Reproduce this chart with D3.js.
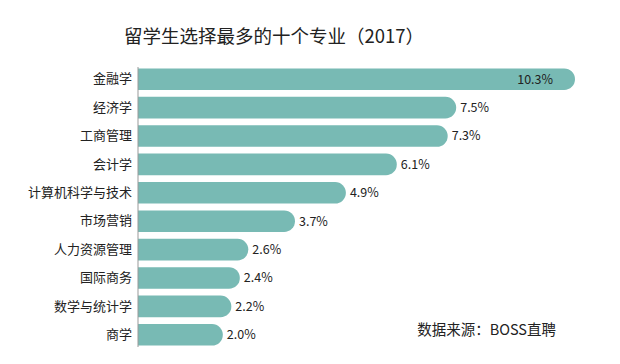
<!DOCTYPE html>
<html>
<head>
<meta charset="utf-8">
<script src="https://cdn.jsdelivr.net/npm/d3@7"></script>
<style>
  body { margin: 0; background: #fff; }
  text { font-family: "Noto Sans CJK SC", "Noto Sans", sans-serif; fill: #222; }
</style>
</head>
<body>
<div id="chart"></div>
<script>
// data, top to bottom
const majors = ['金融学', '经济学', '工商管理', '会计学', '计算机科学与技术',
  '市场营销', '人力资源管理', '国际商务', '数学与统计学', '商学'];
const shares = [10.3, 7.5, 7.3, 6.1, 4.9, 3.7, 2.6, 2.4, 2.2, 2.0];

const titleText = '留学生选择最多的十个专业（2017）';
const sourceText = '数据来源：BOSS直聘';

const dimensions = {
  width: 620,
  height: 364,
  margin: { top: 67, bottom: 17, left: 138, right: 45 }
};
dimensions.ctrWidth = dimensions.width - dimensions.margin.left - dimensions.margin.right;
dimensions.ctrHeight = dimensions.height - dimensions.margin.top - dimensions.margin.bottom;

const svg = d3.select('#chart')
  .append('svg')
  .attr('width', dimensions.width)
  .attr('height', dimensions.height);

svg.append('text')
  .attr('x', 274)
  .attr('y', 43)
  .attr('text-anchor', 'middle')
  .style('font-size', '18.5px')
  .style('font-weight', 400)
  .text(titleText);

const ctr = svg.append('g')
  .attr('transform', `translate(${dimensions.margin.left}, ${dimensions.margin.top})`);

const xScale = d3.scaleLinear()
  .domain([0, d3.max(shares)])
  .range([0, dimensions.ctrWidth]);

const yScale = d3.scaleBand()
  .domain(majors)
  .range([0, dimensions.ctrHeight])
  .paddingInner(0.24)
  .paddingOuter(0.05);

const rows = majors.map((m, i) => ({ major: m, value: shares[i] }));

// bar with flat left end and round right end
const barPath = d => {
  const w = xScale(d.value);
  const h = yScale.bandwidth();
  const y = yScale(d.major);
  const r = h / 2;
  return `M0,${y}H${w - r}A${r},${r} 0 0 1 ${w - r},${y + h}H0Z`;
};

ctr.selectAll('path.bar')
  .data(rows)
  .join('path')
  .attr('class', 'bar')
  .attr('d', barPath)
  .attr('fill', '#78bab4');

// axis line and category labels
const yAxis = d3.axisLeft(yScale).tickSize(0).tickPadding(6);
const yAxisGroup = ctr.append('g').call(yAxis);
yAxisGroup.select('.domain')
  .attr('stroke', '#999')
  .attr('d', `M0,0V${dimensions.ctrHeight}`);
yAxisGroup.selectAll('text')
  .style('font-size', '13px')
  .attr('fill', '#222');

// value labels
ctr.selectAll('text.value')
  .data(rows)
  .join('text')
  .attr('class', 'value')
  .attr('x', (d, i) => i === 0 ? xScale(d.value) - 22 : xScale(d.value) + 4)
  .attr('y', d => yScale(d.major) + yScale.bandwidth() / 2)
  .attr('dy', '0.35em')
  .attr('text-anchor', (d, i) => i === 0 ? 'end' : 'start')
  .style('font-size', '12.5px')
  .text(d => d.value.toFixed(1) + '%');

svg.append('text')
  .attr('x', 556)
  .attr('y', 335)
  .attr('text-anchor', 'end')
  .style('font-size', '14.5px')
  .text(sourceText);
</script>
</body>
</html>
